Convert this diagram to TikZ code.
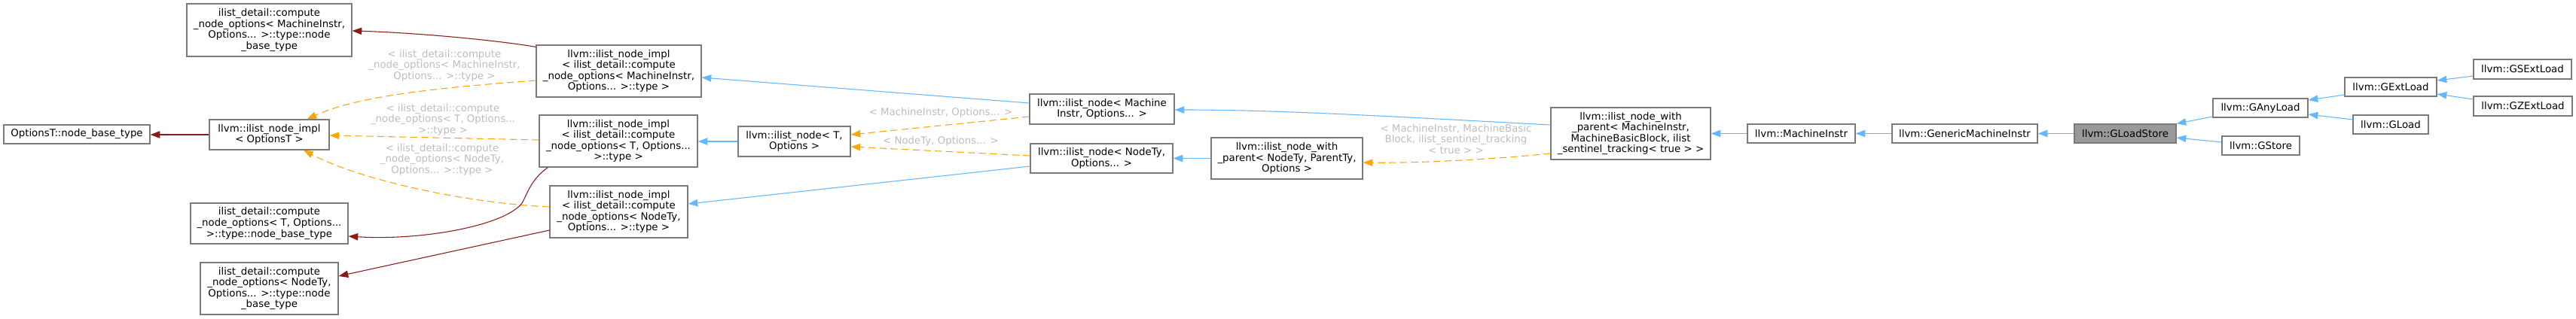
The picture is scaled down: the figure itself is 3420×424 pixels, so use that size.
\documentclass[tikz,border=0pt]{standalone}
\usepackage{fontspec}
\setmainfont{DejaVu Sans}
\usetikzlibrary{arrows.meta,calc}
\definecolor{nodeborder}{HTML}{7A7A7A}
\definecolor{rootfill}{HTML}{999999}
\definecolor{inhblue}{HTML}{63B8FF}
\definecolor{tmplorange}{HTML}{FFA500}
\definecolor{usered}{HTML}{8B1A1A}
\definecolor{labelgray}{HTML}{BEBEBE}
\tikzset{
  cls/.style={draw=nodeborder, line width=0.9pt, fill=white, inner sep=0pt, align=center,
    font=\fontsize{10}{10.9}\selectfont, text=black},
  rootcls/.style={cls, fill=rootfill},
  sz/.style 2 args={minimum width=#1*0.75pt, minimum height=#2*0.75pt},
  tip/.style={-{Triangle[length=9.5pt,width=7pt]}},
  inh/.style={draw=inhblue, line width=0.8pt, tip},
  tmpl/.style={draw=tmplorange, line width=0.8pt, dash pattern=on 7pt off 4pt, tip},
  usage/.style={draw=usered, line width=0.8pt, tip},
  elabel/.style={text=labelgray, align=center, inner sep=0pt, font=\fontsize{10}{10.9}\selectfont}
}
\begin{document}
\begin{tikzpicture}[x=0.75pt,y=-0.75pt]
\fill[white] (0,0) rectangle (3420,424);
\useasboundingbox (0,0) rectangle (3420,424);

% nodes
\node[cls, sz={194}{25}] (nbt) at (102,178.5) {OptionsT::node\_base\_type};
\node[cls, sz={159}{40}] (implO) at (357.5,179) {llvm::ilist\_node\_impl\\< OptionsT >};
\node[cls, sz={219}{70}] (cnoMI) at (357.5,40) {ilist\_detail::compute\\\_node\_options< MachineInstr,\\Options... >::type::node\\\_base\_type};
\node[cls, sz={209}{54}] (cnoT) at (357.5,297) {ilist\_detail::compute\\\_node\_options< T, Options...\\>::type::node\_base\_type};
\node[cls, sz={183}{69}] (cnoN) at (357.5,383.5) {ilist\_detail::compute\\\_node\_options< NodeTy,\\Options... >::type::node\\\_base\_type};
\node[cls, sz={219}{69}] (implMI) at (821.5,94.5) {llvm::ilist\_node\_impl\\< ilist\_detail::compute\\\_node\_options< MachineInstr,\\Options... >::type >};
\node[cls, sz={210}{69}] (implT) at (821,187.5) {llvm::ilist\_node\_impl\\< ilist\_detail::compute\\\_node\_options< T, Options...\\>::type >};
\node[cls, sz={183}{69}] (implN) at (821.5,281.5) {llvm::ilist\_node\_impl\\< ilist\_detail::compute\\\_node\_options< NodeTy,\\Options... >::type >};
\node[cls, sz={149}{40}] (nodeT) at (1054.5,188) {llvm::ilist\_node< T,\\Options >};
\node[cls, sz={192}{40}] (nodeMI) at (1463,145) {llvm::ilist\_node< Machine\\Instr, Options... >};
\node[cls, sz={189}{39}] (nodeN) at (1462.5,210.5) {llvm::ilist\_node< NodeTy,\\Options... >};
\node[cls, sz={201}{55}] (nwpN) at (1708.5,210.5) {llvm::ilist\_node\_with\\\_parent< NodeTy, ParentTy,\\Options >};
\node[cls, sz={212}{69}] (nwpMI) at (2165,177.5) {llvm::ilist\_node\_with\\\_parent< MachineInstr,\\MachineBasicBlock, ilist\\\_sentinel\_tracking< true > >};
\node[cls, sz={143}{25}] (MI) at (2391.5,177.5) {llvm::MachineInstr};
\node[cls, sz={193}{25}] (GMI) at (2608.5,177.5) {llvm::GenericMachineInstr};
\node[rootcls, sz={135}{25}] (GLS) at (2821.5,177.5) {llvm::GLoadStore};
\node[cls, sz={126}{25}] (GAny) at (3001,143.5) {llvm::GAnyLoad};
\node[cls, sz={103}{25}] (GStore) at (3001.5,193.5) {llvm::GStore};
\node[cls, sz={122}{25}] (GExt) at (3174,115.5) {llvm::GExtLoad};
\node[cls, sz={100}{25}] (GLoad) at (3174,165.5) {llvm::GLoad};
\node[cls, sz={130}{26}] (GSExt) at (3349,92) {llvm::GSExtLoad};
\node[cls, sz={131}{26}] (GZExt) at (3349.5,141) {llvm::GZExtLoad};

% edge labels
\node[elabel] (l1) at (590,87) {< ilist\_detail::compute\\\_node\_options< MachineInstr,\\Options... >::type >};
\node[elabel] (l2) at (588,159) {< ilist\_detail::compute\\\_node\_options< T, Options...\\>::type >};
\node[elabel] (l3) at (587,212) {< ilist\_detail::compute\\\_node\_options< NodeTy,\\Options... >::type >};
\node[elabel] (l4) at (1249,150) {< MachineInstr, Options... >};
\node[elabel] (l5) at (1249,188) {< NodeTy, Options... >};
\node[elabel] (l6) at (1933,185) {< MachineInstr, MachineBasic\\Block, ilist\_sentinel\_tracking\\< true > >};

% inheritance (blue)
\draw[inh] ($(GSExt.west)+(0,9)$) -- ($(GExt.east)+(0,-8.5)$);
\draw[inh] ($(GZExt.west)+(0,-9)$) -- ($(GExt.east)+(0,9.5)$);
\draw[inh] ($(GExt.west)+(0,10.5)$) -- ($(GAny.east)+(0,-10.5)$);
\draw[inh] ($(GLoad.west)+(0,-6.5)$) -- ($(GAny.east)+(0,8.5)$);
\draw[inh] ($(GAny.west)+(0,11.5)$) -- (GLS.north east);
\draw[inh] ($(GStore.west)+(0,-4.5)$) -- ($(GLS.east)+(0,5.5)$);
\draw[inh] (GLS.west) -- (GMI.east);
\draw[inh] (GMI.west) -- (MI.east);
\draw[inh] (MI.west) -- (nwpMI.east);
\draw[inh] ($(nwpMI.west)+(0,-11.5)$) .. controls (1850,155) and (1700,146) .. ($(nodeMI.east)+(0,1)$);
\draw[inh] (nwpN.west) -- (nodeN.east);
\draw[inh] ($(nodeMI.west)+(0,-8)$) -- ($(implMI.east)+(0,8.5)$);
\draw[inh] (nodeT.west) -- (implT.east |- nodeT.west);
\draw[inh] ($(nodeN.west)+(0,10.5)$) -- ($(implN.east)+(0,-10.5)$);

% template instances (orange dashed)
\draw[tmpl] ($(nwpMI.west)+(0,26.5)$) .. controls (1980,212) and (1880,217) .. ($(nwpN.east)+(0,5.5)$);
\draw[tmpl] ($(nodeMI.west)+(0,10)$) -- ($(nodeT.east)+(0,-9)$);
\draw[tmpl] ($(nodeN.west)+(0,-3.5)$) -- ($(nodeT.east)+(0,7)$);
\draw[tmpl] ($(implMI.west)+(0,12.5)$) .. controls (560,118) and (470,130) .. ($(implO.north)+(50,0)$);
\draw[tmpl] ($(implT.west)+(0,-1.5)$) -- ($(implO.east)+(0,1)$);
\draw[tmpl] ($(implN.west)+(0,-6.5)$) .. controls (620,270) and (480,240) .. ($(implO.south)+(45.5,0)$);

% usage (dark red)
\draw[usage] (implO.west) -- (nbt.east |- implO.west);
\draw[usage] ($(implMI.north west)+(0,3)$) .. controls (650,52) and (540,43) .. ($(cnoMI.east)+(0,1)$);
\draw[usage] ($(implT.south west)+(12,0)$) .. controls (705,238) and (700,258) .. (693,270) .. controls (670,300) and (560,320) .. ($(cnoT.east)+(0,17)$);
\draw[usage] ($(implN.west)+(0,24.5)$) -- ($(cnoN.east)+(0,-16.5)$);
\end{tikzpicture}
\end{document}
